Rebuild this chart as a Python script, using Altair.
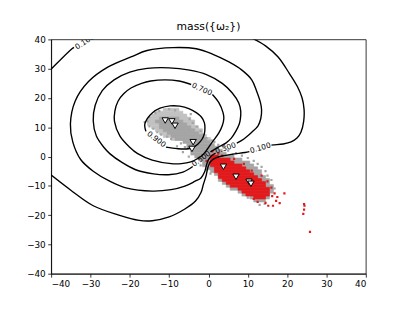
import altair as alt
import pandas as pd

# ---------------- data ----------------
tick_values = [-40, -30, -20, -10, 0, 10, 20, 30, 40]

# contour level 0.9 (closed, gap under its label)
c09_x = [-10.8, -8.0, -5.6, -3.8, -2.6, -1.6, -1.05, -0.9, -1.05, -1.8, -3.1, -5.0, -7.3, -9.8, -12.3, -14.3, -15.6, -16.2, -16.1, -15.9]
c09_y = [3.2, 2.7, 2.6, 3.2, 4.4, 6.0, 7.8, 9.8, 11.6, 13.5, 15.0, 16.4, 17.2, 17.3, 16.5, 14.9, 12.9, 11.0, 9.5, 8.6]

# contour level 0.7
c07_x = [1.0, 2.6, 3.7, 3.9, 3.5, 2.6, 1.0, -0.3, -1.3, -2.5, -4.5, -6.9, -9.5, -14.3, -18.0, -20.1, -22.5, -23.9, -23.8, -23.0, -21.5, -19.7, -17.0, -14.7, -11.0, -7.5, -4.4]
c07_y = [21.2, 18.5, 15.0, 13.0, 10.5, 8.0, 5.0, 2.5, 0.8, -0.5, -1.8, -2.4, -2.4, -1.2, 1.0, 3.3, 7.0, 12.0, 15.5, 18.9, 21.5, 23.4, 25.0, 25.8, 26.2, 25.8, 24.6]

# contour level 0.5
c05_x = [0.5, 2.5, 4.4, 5.8, 6.9, 7.8, 8.1, 8.2, 7.7, 6.0, 3.5, -0.5, -4.8, -10.0, -15.6, -20.0, -24.0, -27.0, -28.8, -29.3, -28.5, -26.5, -25.1, -22.0, -18.5, -14.0, -10.2, -6.5, -4.0]
c05_y = [1.6, 3.2, 4.6, 6.3, 8.5, 11.0, 12.8, 15.5, 18.3, 21.8, 25.0, 28.0, 29.5, 30.3, 30.1, 28.8, 26.2, 22.5, 17.5, 12.2, 7.0, 3.0, 1.0, -2.0, -4.5, -5.9, -6.2, -5.3, -3.4]

# contour level 0.3
c03_x = [7.2, 9.0, 11.0, 12.6, 13.3, 13.5, 13.2, 12.2, 11.0, 8.5, 5.2, 1.0, -3.1, -9.0, -15.6, -19.7, -25.5, -30.5, -33.9, -35.1, -34.5, -32.5, -29.3, -25.0, -21.0, -14.3, -9.5, -6.0, -3.5, -1.9, -1.0, -0.6, -0.1, 0.8, 1.8]
c03_y = [4.6, 6.0, 8.3, 10.5, 13.0, 16.0, 18.5, 22.5, 26.2, 29.5, 32.3, 35.0, 36.8, 37.2, 36.2, 34.0, 30.6, 25.6, 18.9, 11.1, 5.0, -1.0, -5.0, -8.5, -10.7, -11.8, -11.3, -10.1, -8.5, -7.3, -5.3, -3.4, -1.3, 0.3, 1.2]

# contour level 0.1 (three visible pieces)
c01a_x = [-40.5, -37.3, -34.7, -34.2]
c01a_y = [29.2, 33.5, 36.8, 37.3]
c01b_x = [11.0, 14.5, 17.7, 20.5, 22.6, 23.8, 24.3, 24.2, 23.5, 22.5, 21.0, 19.0, 16.8, 16.0]
c01b_y = [40.5, 37.8, 34.0, 28.5, 23.9, 20.0, 16.1, 12.0, 8.3, 6.3, 5.0, 4.3, 4.0, 3.9]
c01c_x = [10.4, 9.3, 6.0, 3.5, 1.7, 0.6, -0.1, -0.6, -1.3, -1.9, -3.3, -6.0, -10.0, -14.3, -17.6, -23.0, -29.3, -35.0, -40.5]
c01c_y = [1.7, 1.4, 0.8, 0.2, -0.5, -1.6, -3.5, -6.5, -9.5, -12.3, -15.2, -17.9, -20.6, -21.9, -21.8, -19.9, -16.8, -11.5, -5.8]

# contour labels
lab_text = ["0.100", "0.700", "0.900", "0.500", "0.300", "0.100"]
lab_x = [-31.4, -1.7, -13.3, -1.8, 4.4, 13.2]
lab_y = [39.0, 22.85, 5.8, -0.9, 2.75, 2.8]
lab_angle = [-32, 24, 37, -36, -19, -16]

# loose part of the gray cloud (upper left), one row per y: first and last cell
gray_loose_y = [16, 15, 14, 13, 12, 11, 10, 9, 8, 7, 6]
gray_loose_x0 = [-11, -13, -14, -15, -15, -15, -14, -13, -12, -11, -9]
gray_loose_x1 = [-8, -7, -6, -5, -4, -4, -3, -2, -2, -1, 0]

# dense part of the gray cloud
gray_row_y = [13, 12, 11, 10, 9, 8, 7, 6, 5, 4, 3, 2, 1, 0, -1, -2, -3, -4, -5, -6, -7, -8, -9, -10, -11, -12, -13, -14, -15]
gray_row_x0 = [-12, -13, -12, -12, -11, -10, -9, -8, -6, -5, -5, -4, -4, -3, -2, -1, -1, 0, 1, 2, 3, 3, 4, 5, 6, 8, 9, 11, 12]
gray_row_x1 = [-8, -7, -6, -5, -4, -3, -2, -1, 0, 1, 2, 3, 4, 6, 8, 10, 11, 12, 13, 13, 14, 15, 15, 16, 16, 16, 15, 15, 14]

# sparse gray points around the cloud
gray_pt_x = [-10.0, -8.5, -13.5, -15.0, -15.5, -15.0, -14.0, -13.0, -12.0, -10.5, -9.5, -7.0, -6.0, -4.5, -4.8, -4.0, -3.0, -2.0, -1.5, -0.5, 0.8, 1.5, 2.5, 3.8, 5.0, 7.0, 8.5, 10.0, 11.5, 12.5, 13.5, 14.5, 15.0, 16.0, 16.8, 12.7, 14.3, 13.0, 10.0, -0.5, 0.5, -2.0, -5.0, -6.5, -8.0, -12.5, -16.2]
gray_pt_y = [16.2, 15.8, 14.8, 13.5, 12.0, 10.3, 9.5, 8.3, 7.5, 6.8, 6.0, 4.5, 3.2, 14.5, 12.8, 11.5, 10.2, 8.8, 7.5, 6.3, 5.5, 5.0, 4.0, 3.2, 2.0, 1.2, 0.3, -0.5, -1.5, -2.5, -3.5, -5.0, -6.5, -8.0, -10.9, -14.6, -16.2, -16.5, -14.0, -4.5, -5.8, -3.0, 0.0, 1.5, 3.5, 15.5, 11.8]

# dense red cloud rows
red_row_y = [0, -1, -2, -3, -4, -5, -6, -7, -8, -9, -10, -11, -12, -13, -14]
red_row_x0 = [1, 1, 1, 1, 2, 2, 3, 3, 4, 5, 6, 8, 9, 10, 12]
red_row_x1 = [2, 5, 6, 8, 9, 10, 11, 12, 13, 14, 14, 15, 15, 15, 14]

# sparse red points
red_pt_x = [2.5, 3.5, 6.5, 9.0, 11.0, 13.5, 15.0, 16.0, 16.8, 19.3, 17.2, 18.1, 16.4, 15.2, 24.3, 24.4, 24.3, 24.1, 25.8, 14.5, 12.5, 11.5, 1.0, -0.5, 16.2, 17.5, 0.3]
red_pt_y = [1.0, 0.3, -0.8, -2.5, -4.8, -6.5, -8.5, -10.6, -12.6, -12.6, -15.1, -15.9, -16.8, -16.8, -16.2, -16.8, -18.1, -19.6, -25.7, -15.8, -15.5, -14.5, 1.8, -1.5, -13.5, -13.8, -2.0]

# triangle markers
tri_x = [-11.0, -9.3, -8.5, -3.9, -4.2, 3.8, 7.0, 10.3, 10.8]
tri_y = [12.3, 12.0, 10.5, 4.9, 2.6, -3.5, -6.9, -8.6, -9.3]

# ---------------- tables ----------------
segs = [("c09", c09_x, c09_y), ("c07", c07_x, c07_y), ("c05", c05_x, c05_y),
        ("c03", c03_x, c03_y), ("c01a", c01a_x, c01a_y), ("c01b", c01b_x, c01b_y),
        ("c01c", c01c_x, c01c_y)]
contour_df = pd.concat([
    pd.DataFrame({"seg": n, "i": list(range(len(xs))), "x": xs, "y": ys}) for n, xs, ys in segs
], ignore_index=True)

labels_df = pd.DataFrame({"text": lab_text, "x": lab_x, "y": lab_y,
                          "angle": [(a + 360) % 360 for a in lab_angle]})

gray_loose = pd.DataFrame({"y": gray_loose_y, "x0": gray_loose_x0, "x1": gray_loose_x1})
gray_rows = pd.DataFrame({"y": gray_row_y, "x0": gray_row_x0, "x1": gray_row_x1})
red_rows = pd.DataFrame({"y": red_row_y, "x0": red_row_x0, "x1": red_row_x1})
gray_pts = pd.DataFrame({"x": gray_pt_x, "y": gray_pt_y})
red_pts = pd.DataFrame({"x": red_pt_x, "y": red_pt_y})
tri_df = pd.DataFrame({"x": tri_x, "y": tri_y})

# ---------------- chart ----------------
sx = alt.Scale(domain=[-40, 40], nice=False, zero=False)
sy = alt.Scale(domain=[-40, 40], nice=False, zero=False)
ax = alt.Axis(values=tick_values, title=None, grid=False, format="d")
ay = alt.Axis(values=tick_values, title=None, grid=False, format="d")

GRAY = "#a5a5a5"
LIGHT_GRAY = "#c2c2c2"
RED = "#e31a1c"


def span_layer(df, color):
    return alt.Chart(df).transform_calculate(
        xa="datum.x0 - 0.5", xb="datum.x1 + 0.5", ya="datum.y - 0.5", yb="datum.y + 0.5"
    ).mark_rect(color=color, stroke=color, strokeWidth=0.6, clip=True).encode(
        x=alt.X("xa:Q", scale=sx, axis=ax), x2="xb:Q",
        y=alt.Y("ya:Q", scale=sy, axis=ay), y2="yb:Q",
    )


def dot_layer(df, color):
    return alt.Chart(df).mark_square(size=5, color=color, opacity=1, clip=True).encode(
        x=alt.X("x:Q", scale=sx, axis=ax), y=alt.Y("y:Q", scale=sy, axis=ay)
    )


gray_loose_span = span_layer(gray_loose, LIGHT_GRAY)
gray_span = span_layer(gray_rows, GRAY)
gray_dot = dot_layer(gray_pts, GRAY)
red_span = span_layer(red_rows, RED)
red_dot = dot_layer(red_pts, RED)

lines = alt.Chart(contour_df).mark_line(
    color="black", strokeWidth=1.4, clip=True, interpolate="catmull-rom"
).encode(
    x=alt.X("x:Q", scale=sx, axis=ax), y=alt.Y("y:Q", scale=sy, axis=ay),
    detail="seg:N", order="i:Q",
)

labels = alt.Chart(labels_df).mark_text(
    font="DejaVu Sans", fontSize=7.6, color="black", align="center", baseline="middle", clip=True
).encode(
    x=alt.X("x:Q", scale=sx, axis=ax), y=alt.Y("y:Q", scale=sy, axis=ay),
    text="text:N", angle=alt.Angle("angle:Q", scale=None),
)

tris = alt.Chart(tri_df).mark_point(
    shape="triangle-down", filled=True, fill="white", stroke="black", strokeWidth=1,
    size=42, opacity=1, clip=True
).encode(x=alt.X("x:Q", scale=sx, axis=ax), y=alt.Y("y:Q", scale=sy, axis=ay))

chart = alt.layer(gray_loose_span, gray_dot, gray_span, red_span, red_dot, lines, labels, tris).properties(
    width=321, height=239,
    title=alt.TitleParams("mass({ω₂})", font="DejaVu Sans", fontSize=11, fontWeight="normal",
                          color="black", offset=4),
    autosize=alt.AutoSizeParams(type="none"),
    padding={"left": 44, "top": 29, "right": 42, "bottom": 35},
    background="white",
).configure_view(stroke="black", strokeWidth=0.8).configure_axis(
    domainColor="black", domainWidth=0.8, tickColor="black", tickWidth=0.8, tickSize=3.5,
    labelFont="DejaVu Sans", labelFontSize=9, labelColor="black", labelPadding=2.5,
)

chart.save("out.html", embed_options={"renderer": "svg", "actions": False})
